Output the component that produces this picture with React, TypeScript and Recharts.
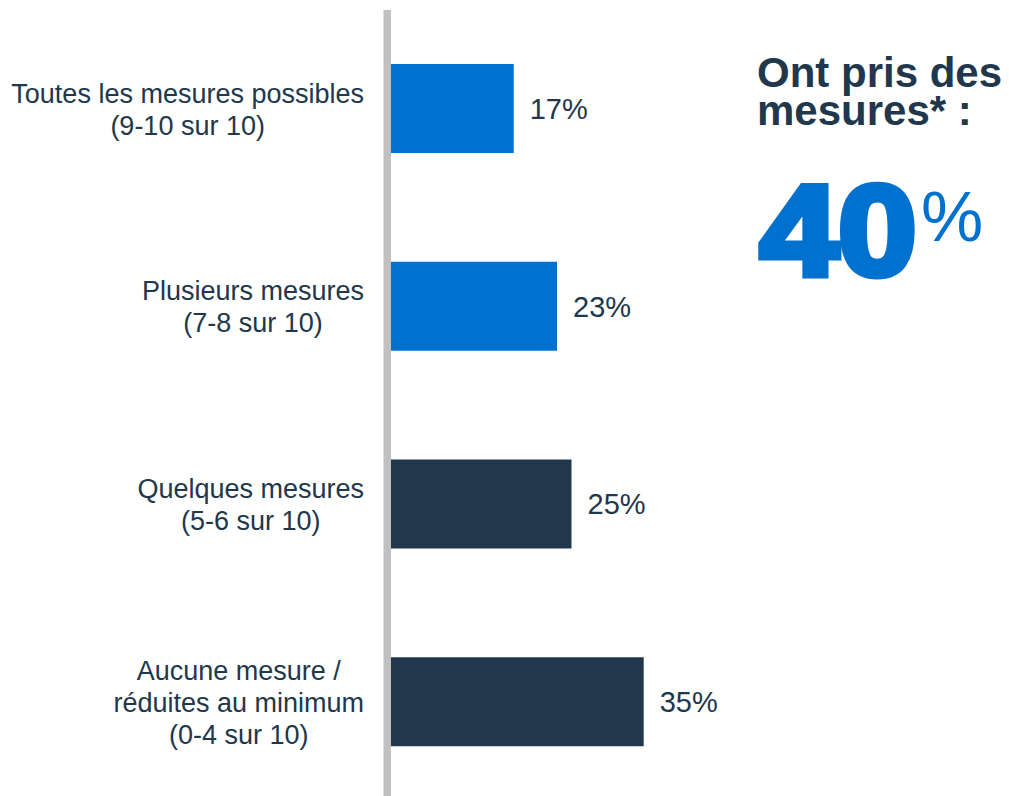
import { Bar, BarChart, LabelList, XAxis, YAxis, Cell } from 'recharts';

const categories = [
  'Toutes les mesures possibles\n(9-10 sur 10)',
  'Plusieurs mesures\n(7-8 sur 10)',
  'Quelques mesures\n(5-6 sur 10)',
  'Aucune mesure /\nréduites au minimum\n(0-4 sur 10)',
];
const shares = [17, 23, 25, 35];
const barColors = ['#0071ce', '#0071ce', '#21374b', '#21374b'];
const headline = ['Ont pris des', 'mesures* :'];
const headlineValue = '40';

const data = categories.map((label, i) => ({ label, share: shares[i] }));

const INK = '#21374b';
const FONT = '"Liberation Sans", Arial, sans-serif';

let ctx: CanvasRenderingContext2D | null = null;
function measure(text: string, font: string) {
  if (!ctx) ctx = document.createElement('canvas').getContext('2d');
  if (!ctx) return text.length * 13;
  ctx.font = font;
  return ctx.measureText(text).width;
}

function CategoryTick({ x, y, payload }: any) {
  const lines: string[] = String(payload.value).split('\n');
  const widest = Math.max(...lines.map((l) => measure(l, `27px ${FONT}`)));
  const cx = x - 27 - widest / 2;
  const first = -((lines.length - 1) / 2) * 32;
  return (
    <text x={cx} y={y} textAnchor="middle" fill={INK} fontSize={27} fontFamily={FONT}>
      {lines.map((l, i) => (
        <tspan key={i} x={cx} y={y + first + i * 32} dy="0.36em">
          {l}
        </tspan>
      ))}
    </text>
  );
}

function App() {
  return (
    <div style={{ position: 'fixed', left: 0, top: 0, width: 1009, height: 796, overflow: 'hidden', background: '#fff' }}>
      <BarChart
        width={1009}
        height={806}
        data={data}
        layout="vertical"
        margin={{ top: 10, right: 257, bottom: 5, left: 0 }}
      >
        <XAxis type="number" domain={[0, 50]} hide />
        <YAxis
          type="category"
          dataKey="label"
          width={391}
          axisLine={{ stroke: '#c0c0c0', strokeWidth: 7.5, transform: 'translate(-3.75 0)' }}
          tickLine={false}
          tickSize={0}
          tickMargin={0}
          tick={<CategoryTick />}
          interval={0}
        />
        <Bar dataKey="share" barSize={89} isAnimationActive={false}>
          {data.map((d, i) => (
            <Cell key={d.label} fill={barColors[i]} />
          ))}
          <LabelList
            dataKey="share"
            position="right"
            offset={16}
            formatter={(v: any) => `${v}%`}
            fill={INK}
            fontSize={29}
            fontFamily={FONT}
          />
        </Bar>
      </BarChart>
      <svg width={1009} height={796} style={{ position: 'absolute', left: 0, top: 0, pointerEvents: 'none' }}>
        <text x={757} y={87} fontFamily={FONT} fontWeight="bold" fontSize={42} fill={INK}>
          {headline[0]}
        </text>
        <text x={757} y={125} fontFamily={FONT} fontWeight="bold" fontSize={42} fill={INK}>
          {headline[1]}
        </text>
        <text
          x={760}
          y={275}
          fontFamily={FONT}
          fontWeight="bold"
          fontSize={128}
          fill="#0071ce"
          stroke="#0071ce"
          strokeWidth={7}
          strokeLinejoin="miter"
          transform="translate(760 0) scale(1.1 1) translate(-760 0)"
        >
          {headlineValue}
        </text>
        <text x={921} y={241} fontFamily={FONT} fontSize={70} fill="#0071ce">
          %
        </text>
      </svg>
    </div>
  );
}

export default App;
